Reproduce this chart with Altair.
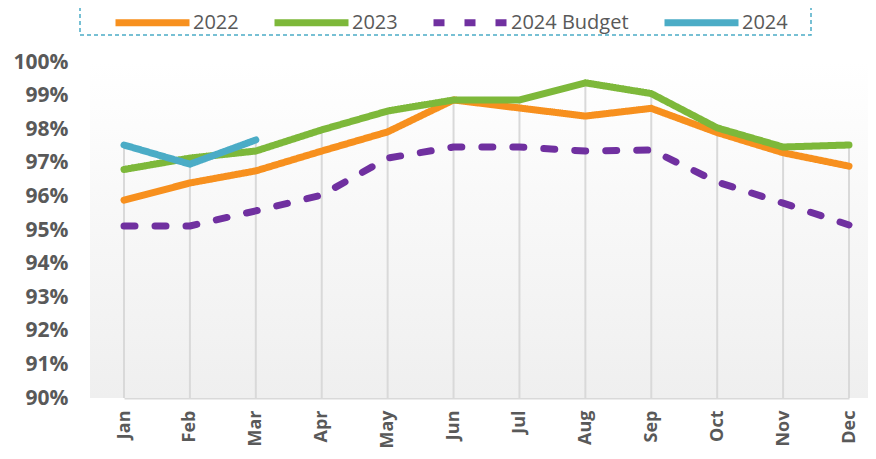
import altair as alt
import pandas as pd

months = ["Jan", "Feb", "Mar", "Apr", "May", "Jun", "Jul", "Aug", "Sep", "Oct", "Nov", "Dec"]
series_names = ["2022", "2023", "2024 Budget", "2024"]
v2022 = [95.89, 96.40, 96.76, 97.35, 97.92, 98.87, 98.63, 98.39, 98.62, 97.90, 97.30, 96.90]
v2023 = [96.80, 97.14, 97.35, 97.98, 98.54, 98.87, 98.87, 99.38, 99.06, 98.04, 97.47, 97.53]
vbudget = [95.12, 95.12, 95.57, 96.04, 97.14, 97.47, 97.47, 97.35, 97.38, 96.43, 95.80, 95.15]
v2024 = [97.53, 96.96, 97.68]
y_ticks = [90, 91, 92, 93, 94, 95, 96, 97, 98, 99, 100]

colors = ["#F7901E", "#7DB83A", "#7030A0", "#4BACC6"]
dashes = [[1, 0], [1, 0], [11, 20], [1, 0]]

rows = []
for name, vals in zip(series_names, [v2022, v2023, vbudget, v2024]):
    for i, v in enumerate(vals):
        rows.append({"month": months[i], "series": name, "value": v, "order": i})
df = pd.DataFrame(rows)

drop = df.groupby("month", as_index=False)["value"].max()
drop["base"] = 90

W, H = 778, 336

x_scale = alt.Scale(type="point", range=[34, 759], padding=0)
y_scale = alt.Scale(domain=[90, 100], nice=False, zero=False)

x_axis = alt.Axis(title=None, labelAngle=-90, labelAlign="right", labelBaseline="middle",
                  labelFont="Open Sans", labelFontSize=18, labelFontWeight="bold",
                  labelColor="#595959", labelPadding=12, ticks=False, grid=False,
                  domainColor="#d9d9d9", domainWidth=2)
y_axis = alt.Axis(title=None, values=y_ticks, labelExpr="datum.value + '%'",
                  labelFont="Open Sans", labelFontSize=21, labelFontWeight="bold",
                  labelColor="#595959", labelPadding=22, ticks=False, grid=False,
                  domain=False, labelOverlap=False, tickCount=11)

one = pd.DataFrame({"a": [1]})

bg = alt.Chart(one).mark_rect(
    color=alt.Gradient(
        gradient="linear",
        stops=[alt.GradientStop(color="#ffffff", offset=0),
               alt.GradientStop(color="#efefef", offset=1)],
        x1=0, x2=0, y1=0, y2=1,
    )
).encode(x=alt.value(0), x2=alt.value(W), y=alt.value(0), y2=alt.value(H))

legend_box = alt.Chart(one).mark_rect(
    fill=None, stroke="#4BACC6", strokeWidth=1.5, strokeDash=[4, 3]
).encode(x=alt.value(-10), x2=alt.value(721), y=alt.value(-95), y2=alt.value(-27))

rules = alt.Chart(drop).mark_rule(color="#d9d9d9", strokeWidth=2).encode(
    x=alt.X("month:N", sort=months, scale=x_scale, axis=x_axis),
    y=alt.Y("value:Q", scale=y_scale, axis=y_axis),
    y2="base:Q",
)

leg = alt.Legend(title=None, orient="none", direction="horizontal", legendX=22, legendY=-80)

lines = alt.Chart(df).mark_line(strokeWidth=7, strokeCap="round", strokeJoin="round").encode(
    x=alt.X("month:N", sort=months, scale=x_scale, axis=x_axis),
    y=alt.Y("value:Q", scale=y_scale, axis=y_axis),
    order="order:Q",
    color=alt.Color("series:N", scale=alt.Scale(domain=series_names, range=colors), legend=leg),
    strokeDash=alt.StrokeDash("series:N", scale=alt.Scale(domain=series_names, range=dashes),
                              legend=leg),
)

chart = alt.layer(bg, legend_box, rules, lines).properties(
    width=W, height=H,
    autosize=alt.AutoSizeParams(type="none"),
    padding={"left": 82, "top": 54, "right": 0, "bottom": 53},
).configure_view(stroke=None).configure_legend(
    symbolType="stroke",
    symbolSize=5476,
    symbolStrokeWidth=7,
    labelFont="Open Sans",
    labelFontSize=20,
    labelColor="#595959",
    labelOffset=0,
    columnPadding=21,
    padding=0,
    labelLimit=300,
)

chart.save("out.html", embed_options={"renderer": "svg", "actions": False})
